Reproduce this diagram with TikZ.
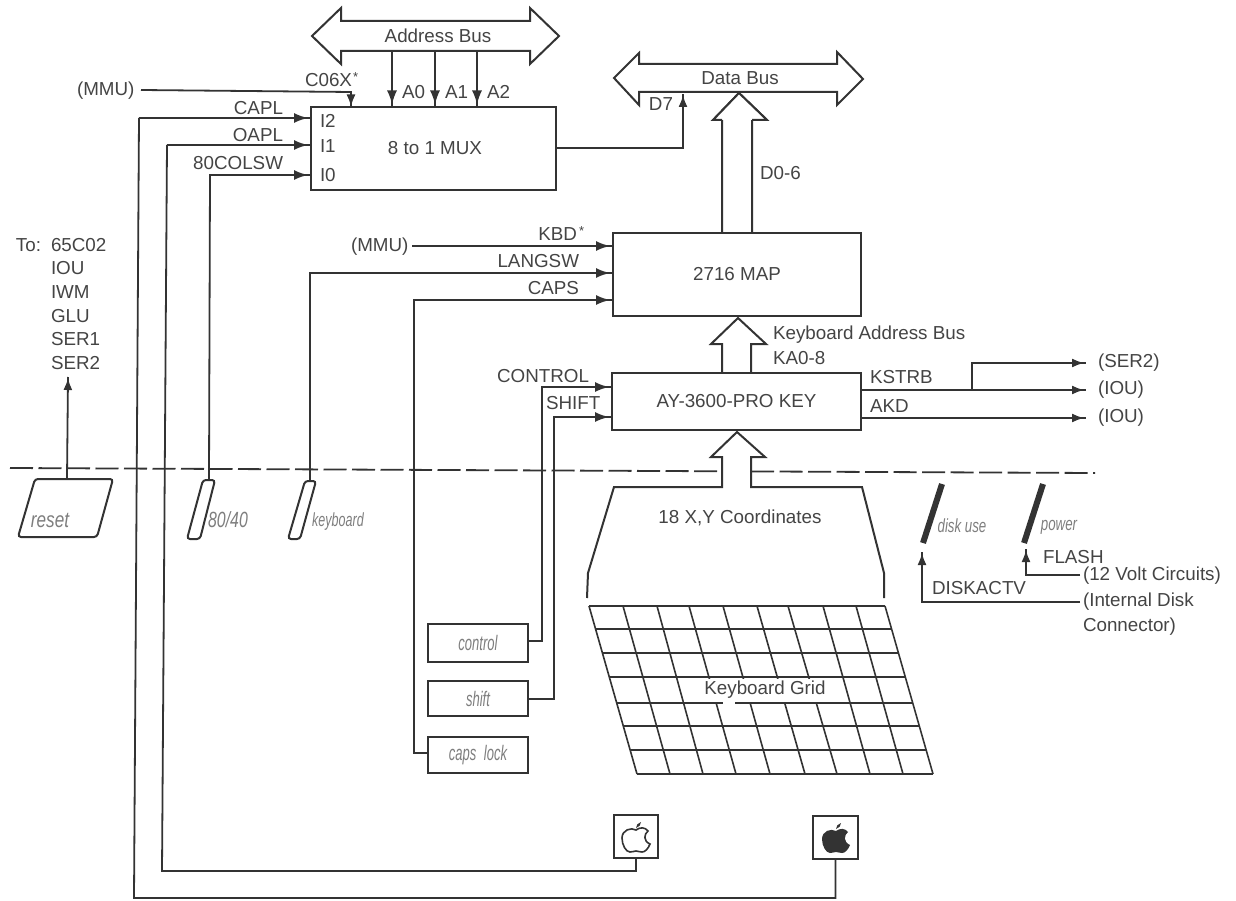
\documentclass[tikz,border=0pt]{standalone}
\usepackage{fontspec}
\setmainfont{Liberation Sans}
\usetikzlibrary{arrows.meta}
\definecolor{ink}{HTML}{333333}
\definecolor{txt}{HTML}{444444}
\definecolor{soft}{HTML}{7E7E7E}
\tikzset{
  wire/.style={draw=ink,line width=1.8pt,line join=miter},
  arr/.style={wire,-{Latex[length=14pt,width=10pt] Rectangle[length=3pt,width=1.8pt]}},
  smallarr/.style={wire,-{Latex[length=12pt,width=9pt] Rectangle[length=1pt,width=1.8pt]}},
  box/.style={draw=ink,line width=2pt,fill=white,inner sep=0pt,outer sep=0pt,text=txt,font=\fontsize{18.8}{22}\selectfont},
  lab/.style={inner sep=0pt,outer sep=0pt,text=txt,font=\fontsize{18.8}{22}\selectfont},
  labl/.style={lab,anchor=west},
  hollow/.style={draw=ink,line width=2pt,fill=white,line join=miter},
  switchbox/.style={draw=ink,line width=2pt,fill=white,rounded corners=3pt},
  ital/.style={inner sep=0pt,outer sep=0pt,text=soft,font=\fontsize{22}{24}\selectfont\itshape},
  keytxt/.style={box,text=soft,font=\fontsize{21}{24}\selectfont\itshape},
  gridline/.style={draw=ink,line width=1.6pt},
}
\newcommand{\narrow}[2]{\scalebox{#1}[1]{#2}}
\newcommand{\applebodypath}{(0,-8) .. controls (4,-11) and (9,-11) .. (12,-7)
      .. controls (8,-4) and (7,3) .. (14,6)
      .. controls (12,11) and (9,14) .. (6,14)
      .. controls (3,14) and (2,13) .. (0,13)
      .. controls (-2,13) and (-3,14) .. (-6,14)
      .. controls (-10,14) and (-14,7) .. (-14,0)
      .. controls (-14,-8) and (-5,-11) .. (0,-8) -- cycle}
\newcommand{\appleleafpath}{(0,-10) .. controls (0,-13) and (2,-15) .. (5,-16)
      .. controls (5,-13) and (3,-11) .. (0,-10) -- cycle}
\begin{document}
\begin{tikzpicture}[x=1pt,y=-1pt]
\useasboundingbox (0,0) rectangle (1236,901);

% partition line
\coordinate (dashL) at (10,468);
\coordinate (dashR) at (1095,473);
\draw[draw=ink,line width=1.8pt,dash pattern=on 23pt off 5.5pt] (dashL) -- (dashR);

% hollow arrows (behind the boxes)
\draw[hollow] (722,234) -- (722,120) -- (713,120) -- (739,93) -- (767,120) -- (752,120) -- (752,234);
\draw[hollow] (722,374) -- (722,344) -- (711,344) -- (738,318) -- (766,344) -- (751,344) -- (751,374);

% boxes
\node[box,minimum width=245pt,minimum height=83pt] (mux) at (433.5,149) {};
\node[lab] at (435,148) {8 to 1 MUX};
\node[box,minimum width=248pt,minimum height=83pt] (map) at (737,274.5) {2716 MAP};
\node[box,minimum width=249pt,minimum height=57pt] (key) at (736.5,401.5) {AY-3600-PRO KEY};
\node[keytxt,minimum width=100pt,minimum height=38pt] (ctl) at (478,643) {\narrow{.62}{control}};
\node[keytxt,minimum width=100pt,minimum height=35pt] (shf) at (478,698.5) {\narrow{.62}{shift}};
\node[keytxt,minimum width=100pt,minimum height=36pt] (cap) at (478,755) {\narrow{.62}{caps\hspace{12pt}lock}};
\node[box,minimum width=44pt,minimum height=43pt] (apw) at (636,836.5) {};
\node[box,minimum width=45pt,minimum height=43pt] (apb) at (835.5,837.5) {};
\begin{scope}[shift={(636,838)}]
  \draw[draw=ink,line width=1.6pt,fill=white] \applebodypath;
  \fill[ink] \appleleafpath;
\end{scope}
\begin{scope}[shift={(836,839)}]
  \fill[ink] \applebodypath;
  \fill[ink] \appleleafpath;
\end{scope}

\node[labl] at (320,121) {I2};
\node[labl] at (320,146) {I1};
\node[labl] at (320,175) {I0};

% address bus
\draw[hollow] (312,36) -- (341,8) -- (341,21) -- (530,21) -- (530,8) -- (559,36) -- (530,64) -- (530,51) -- (341,51) -- (341,64) -- cycle;
\node[lab] at (438,36) {Address Bus};
\coordinate (a0) at (392,51);
\coordinate (a1) at (435,51);
\coordinate (a2) at (477,51);
\foreach \c/\t in {a0/A0,a1/A1,a2/A2}{
  \draw[arr] (\c) -- (\c |- mux.north);
  \node[labl] at ([xshift=10pt]\c |- 0,92) {\t};
}

% data bus
\draw[hollow] (614,78) -- (639,53) -- (639,64) -- (837,64) -- (837,52) -- (863,79) -- (837,105) -- (837,92) -- (639,92) -- (639,105) -- cycle;
\node[lab] at (740,78) {Data Bus};
\draw[hollow] (722,120) -- (713,120) -- (739,93) -- (767,120) -- (752,120);

\node[labl] at (760,173) {D0-6};
\node[labl] at (773,335) {Keyboard Address Bus};
\node[labl] at (773,358) {KA0-8};

% coordinate funnel
\draw[hollow] (587,598) -- (588,573) -- (614,487) -- (722,487) -- (722,457) -- (711,457) -- (737,432) -- (765,457) -- (751,457) -- (751,487) -- (862,487) -- (884,573) -- (884,598);
\node[lab] at (740,518) {18 X,Y Coordinates};

% keyboard grid
\foreach \y in {606,629,653,677,703,726,750,774}{
  \pgfmathsetmacro{\xa}{589+(\y-606)*48/168}
  \pgfmathsetmacro{\xb}{885+(\y-606)*48/168}
  \draw[gridline] (\xa,\y) -- (\xb,\y);
}
\foreach \p/\q in {589/637,623/670,657/703,689/736,723/770,757/805,788/837,823/870,856/903,885/933}{
  \draw[gridline] (\p,606) -- (\q,774);
}
\fill[white] (684,678.5) rectangle (834,702);
\fill[white] (723,700) rectangle (735,705);
\node[lab] at (765,690) {Keyboard Grid};

% switches
\coordinate (rstTop) at (67,479);
\draw[switchbox] (35,479) -- (113,479) -- (97,537) -- (18,537) -- cycle;
\node[ital] at (50,520) {\narrow{.78}{reset}};
\coordinate (sw80) at (209,480);
\draw[switchbox] (203,480) -- (215,480) -- (200,539) -- (187,539) -- cycle;
\node[ital] at (228,520) {\narrow{.72}{80/40}};
\coordinate (swkb) at (310,481);
\draw[switchbox] (305,481) -- (316,481) -- (300,539) -- (288,539) -- cycle;
\node[ital,font=\fontsize{19}{22}\selectfont\itshape] at (338,522) {\narrow{.66}{keyboard}};

% LEDs
\coordinate (dskT) at (942,484);
\coordinate (dskB) at (923,543);
\coordinate (pwrT) at (1043,484);
\coordinate (pwrB) at (1024,543);
\draw[draw=ink,line width=6pt] (dskT) -- (dskB);
\draw[draw=ink,line width=6pt] (pwrT) -- (pwrB);
\node[ital,font=\fontsize{19}{22}\selectfont\itshape] at (962,526) {\narrow{.7}{disk use}};
\node[ital,font=\fontsize{19}{22}\selectfont\itshape] at (1059,527) {\narrow{.7}{power}};

% reset list
\node[labl] at (16,245) {To:};
\node[labl] at (51,245) {65C02};
\node[labl] at (51,268) {IOU};
\node[labl] at (51,292) {IWM};
\node[labl] at (51,316) {GLU};
\node[labl] at (51,339) {SER1};
\node[labl] at (51,363) {SER2};
\coordinate (toTip) at (68,377);
\draw[smallarr] (rstTop) -- (toTip);

% MUX inputs
\node[labl] (mmuA) at (77,91) {(MMU)};
\coordinate (mmuS) at (141,90);
\coordinate (mmuC) at (351,92);
\draw[smallarr] (mmuS) -- (mmuC) -- (mmuC |- mux.north);
\node[labl] at (305,80) {C06X};
\node[labl,font=\fontsize{13}{14}\selectfont] at (353,77) {*};

\coordinate (caplC) at (139,118);
\coordinate (oaplC) at (167,145);
\coordinate (colC) at (210,175);
\coordinate (caplB) at (134,898);
\coordinate (oaplB) at (162,871);
\draw[wire] (apb.south) -- (apb.south |- caplB) -- (caplB) -- (caplC);
\draw[arr] (caplC) -- (caplC -| mux.west);
\draw[wire] (apw.south) -- (apw.south |- oaplB) -- (oaplB) -- (oaplC);
\draw[arr] (oaplC) -- (oaplC -| mux.west);
\draw[arr] (sw80) -- (colC) -- (colC -| mux.west);
\node[lab,anchor=east] at (283,108) {CAPL};
\node[lab,anchor=east] at (283,135) {OAPL};
\node[lab,anchor=east] at (283,163) {80COLSW};

% MUX output
\coordinate (d7) at (683,148);
\coordinate (d7tip) at (683,94);
\draw[smallarr] (mux.east |- d7) -- (d7) -- (d7tip);
\node[lab] at (661,104) {D7};

% MAP inputs
\node[labl] at (351,247) {(MMU)};
\coordinate (kbdS) at (412,246);
\draw[arr] (kbdS) -- (kbdS -| map.west);
\node[lab,anchor=east] at (577,234) {KBD};
\node[labl,font=\fontsize{13}{14}\selectfont] at (579,231) {*};
\coordinate (langC) at (310,273);
\draw[arr] (swkb) -- (langC) -- (langC -| map.west);
\node[lab,anchor=east] at (579,261) {LANGSW};
\coordinate (capsC) at (414,300);
\coordinate (capsB) at (414,753);
\draw[arr] (cap.west |- capsB) -- (capsB) -- (capsC) -- (capsC -| map.west);
\node[lab,anchor=east] at (579,288) {CAPS};

% KEY inputs
\coordinate (ctlC) at (542,387);
\coordinate (ctlB) at (542,641);
\draw[arr] (ctl.east |- ctlB) -- (ctlB) -- (ctlC) -- (ctlC -| key.west);
\node[lab,anchor=east] at (589,376) {CONTROL};
\coordinate (shfC) at (554,417);
\coordinate (shfB) at (554,699);
\draw[arr] (shf.east |- shfB) -- (shfB) -- (shfC) -- (shfC -| key.west);
\node[labl] at (546,403) {SHIFT};

% KEY outputs
\coordinate (kstrb) at (861,390);
\coordinate (branch) at (972,390);
\coordinate (serTop) at (972,363);
\coordinate (ksEnd) at (1085,390);
\coordinate (serEnd) at (1085,363);
\coordinate (akd) at (861,418);
\coordinate (akEnd) at (1085,418);
\draw[smallarr] (kstrb) -- (ksEnd);
\draw[smallarr] (branch) -- (serTop) -- (serEnd);
\draw[smallarr] (akd) -- (akEnd);
\node[labl] at (870,377) {KSTRB};
\node[labl] at (870,406) {AKD};
\node[labl] at (1098,363) {(SER2)};
\node[labl] at (1098,390) {(IOU)};
\node[labl] at (1098,418) {(IOU)};

% LED feeds
\coordinate (diskC) at (922,602);
\coordinate (diskE) at (1080,602);
\coordinate (diskT) at (922,552);
\draw[smallarr] (diskE) -- (diskC) -- (diskT);
\node[labl] at (932,588) {DISKACTV};
\node[labl] at (1083,602) {(Internal Disk};
\node[labl] at (1083,627) {Connector)};
\coordinate (flC) at (1026,575);
\coordinate (flE) at (1080,575);
\coordinate (flT) at (1026,549);
\draw[smallarr] (flE) -- (flC) -- (flT);
\node[labl] at (1043,557) {FLASH};
\node[labl] at (1083,576) {(12 Volt Circuits)};
\end{tikzpicture}
\end{document}
